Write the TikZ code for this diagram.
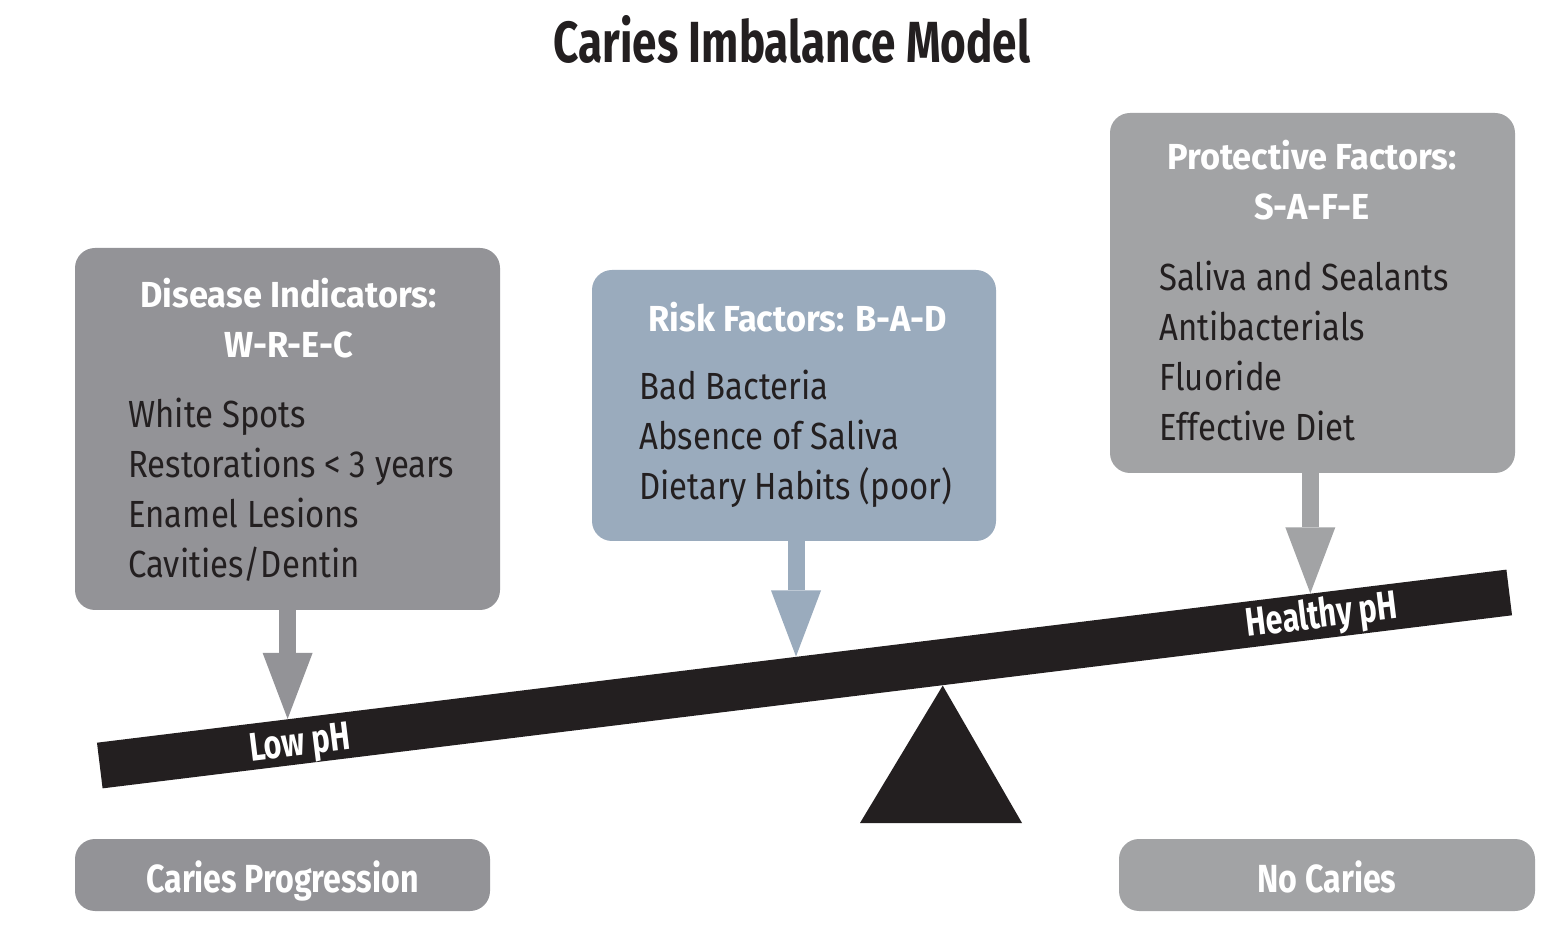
\documentclass[tikz,border=0pt]{standalone}
\usepackage{fontspec}
\setmainfont{Fira Sans}[FakeStretch=0.87]
\newfontfamily\headfont{Fira Sans}[FakeStretch=0.95]
\newfontfamily\titlefont{Fira Sans}[FakeStretch=0.76]
\newfontfamily\labelfont{Fira Sans}[FakeStretch=0.82]
\usetikzlibrary{arrows.meta, calc}
\definecolor{indgray}{HTML}{939397}
\definecolor{riskblue}{HTML}{9AABBD}
\definecolor{protgray}{HTML}{A2A3A5}
\definecolor{beamblack}{HTML}{231F20}

\begin{document}
\begin{tikzpicture}[x=0.5pt, y=-0.5pt,
    factor/.style={rounded corners=10pt, inner sep=0pt},
    outcome/.style={rounded corners=10pt, inner sep=0pt, minimum height=36pt,
      text height=17pt, text depth=0pt, text=white,
      font=\labelfont\bfseries\fontsize{19.6}{24}\selectfont},
    heading/.style={font=\headfont\bfseries\fontsize{18.1}{25}\selectfont,
      text=white, align=center, inner sep=0pt},
    items/.style={font=\fontsize{18.9}{25}\selectfont, text=beamblack,
      align=left, inner sep=0pt},
    push/.style={line width=8.5pt,
      -{Triangle[width=25pt, length=33pt, line width=0pt]}},
    phlabel/.style={font=\titlefont\bfseries\fontsize{20}{24}\selectfont,
      text=white, rotate=7, inner sep=0pt}]

  \useasboundingbox (0,0) rectangle (1564,940);

  % Title
  \node[font=\titlefont\bfseries\fontsize{29}{34}\selectfont, text=beamblack,
    anchor=base] (title) at (792,63) {Caries Imbalance Model};

  % The three groups of factors
  \node[factor, fill=indgray, minimum width=212.5pt, minimum height=181pt]
    (ind) at (287.5,429) {};
  \node[factor, fill=riskblue, minimum width=202pt, minimum height=135.5pt]
    (risk) at (794,405.5) {};
  \node[factor, fill=protgray, minimum width=202.5pt, minimum height=180pt]
    (prot) at (1312.5,293) {};

  \node[heading, anchor=base] (indhead) at (288.5,358)
    {Disease Indicators:\\W-R-E-C};
  \node[items, anchor=base west] (inditems) at (128,578)
    {White Spots\\Restorations < 3 years\\Enamel Lesions\\Cavities/Dentin};

  \node[heading, anchor=base] (riskhead) at (797.5,332)
    {Risk Factors: B-A-D};
  \node[items, anchor=base west] (riskitems) at (639,500)
    {Bad Bacteria\\Absence of Saliva\\Dietary Habits (poor)};

  \node[heading, anchor=base] (prothead) at (1312,220)
    {Protective Factors:\\S-A-F-E};
  \node[items, anchor=base west] (protitems) at (1159,441)
    {Saliva and Sealants\\Antibacterials\\Fluoride\\Effective Diet};

  % Seesaw
  \node[fill=beamblack, minimum width=710pt, minimum height=23pt,
    inner sep=0pt, rotate=7] (beam) at (804.5,679) {};
  \coordinate (pivot) at ($(beam.south west)!0.596!(beam.south east)$);
  \fill[beamblack] (pivot) -- (1022,823) -- (860,823) -- cycle;

  \node[phlabel] (low) at (300,746) {Low pH};
  \node[phlabel] (healthy) at (1322,617) {Healthy pH};

  \coordinate (lowtip)     at ($(beam.north west)!0.1355!(beam.north east)$);
  \coordinate (risktip)    at ($(beam.north west)!0.496!(beam.north east)$);
  \coordinate (healthytip) at ($(beam.north west)!0.8607!(beam.north east)$);

  \draw[push, indgray]  (ind.south -| lowtip)      -- (lowtip);
  \draw[push, riskblue] (risk.south -| risktip)    -- (risktip);
  \draw[push, protgray] (prot.south -| healthytip) -- (healthytip);

  % Outcomes
  \node[outcome, fill=indgray, minimum width=207.5pt]
    (progress) at (282.5,875) {Caries Progression};
  \node[outcome, fill=protgray, minimum width=208pt]
    (nocaries) at (1327,875) {No Caries};

\end{tikzpicture}
\end{document}
